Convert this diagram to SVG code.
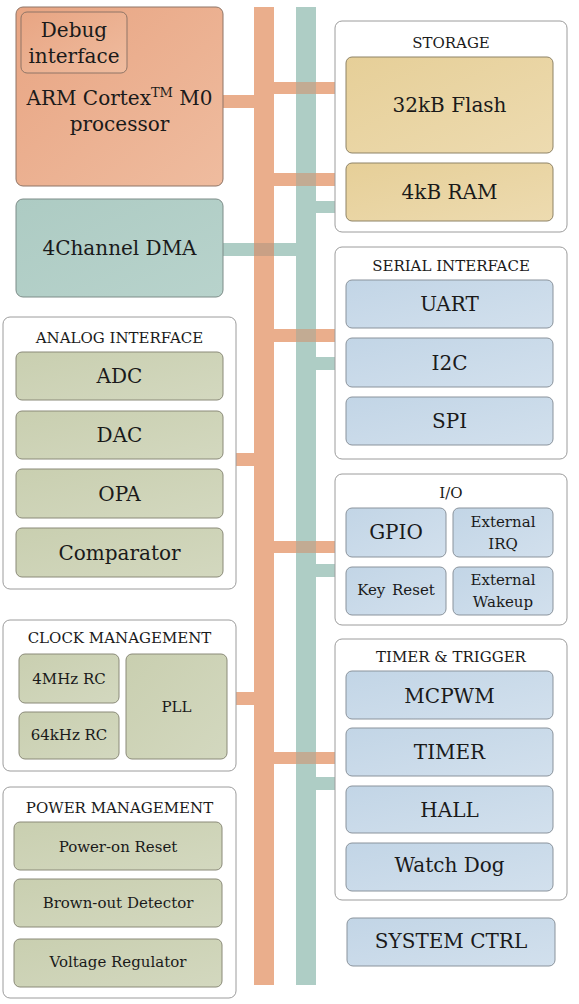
<svg xmlns="http://www.w3.org/2000/svg" width="579" height="1004" viewBox="0 0 579 1004">
<defs>
<linearGradient id="gOr" x1="0" y1="0" x2="1" y2="1"><stop offset="0" stop-color="#e8a583"/><stop offset="1" stop-color="#efbc9f"/></linearGradient>
<linearGradient id="gTe" x1="0" y1="0" x2="1" y2="1"><stop offset="0" stop-color="#adcbc3"/><stop offset="1" stop-color="#b8d3cc"/></linearGradient>
<linearGradient id="gYe" x1="0" y1="0" x2="1" y2="1"><stop offset="0" stop-color="#e6cf98"/><stop offset="1" stop-color="#eddbb0"/></linearGradient>
<linearGradient id="gBl" x1="0" y1="0" x2="1" y2="1"><stop offset="0" stop-color="#c2d5e6"/><stop offset="1" stop-color="#d2e0ed"/></linearGradient>
<linearGradient id="gOl" x1="0" y1="0" x2="1" y2="1"><stop offset="0" stop-color="#c9cfb0"/><stop offset="1" stop-color="#d3d8bf"/></linearGradient>
</defs>
<style>
text{font-family:"DejaVu Serif","Liberation Serif",serif;fill:#1a1a1a;text-anchor:middle}
.grp{fill:#ffffff;stroke:#9c9c9c;stroke-width:1}
.or{fill:url(#gOr);stroke:#8f7566;stroke-width:1}
.te{fill:url(#gTe);stroke:#7d8c88;stroke-width:1}
.ye{fill:url(#gYe);stroke:#8e8366;stroke-width:1}
.bl{fill:url(#gBl);stroke:#8a939c;stroke-width:1}
.ol{fill:url(#gOl);stroke:#8a8a78;stroke-width:1}
.t{font-size:15px}
.b{font-size:20px}
.s{font-size:15px}
.busO{fill:#eaae8c}
.busT{fill:#aecdc5}
.xO{fill:#c2ab93}
.xT{fill:#c9a085}
</style>
<g id="connectors">
<rect class="busO" x="254" y="7" width="20" height="978"/>
<rect class="busT" x="296" y="7" width="20" height="978"/>
<rect class="busO" x="223" y="95" width="31" height="13"/>
<rect class="busT" x="223" y="243" width="73" height="13"/>
<rect class="xT" x="254" y="243" width="20" height="13"/>
<rect class="busO" x="274" y="82" width="72" height="12"/>
<rect class="xO" x="296" y="82" width="20" height="12"/>
<rect class="busO" x="274" y="173" width="72" height="13"/>
<rect class="xO" x="296" y="173" width="20" height="13"/>
<rect class="busT" x="316" y="201" width="30" height="12"/>
<rect class="busO" x="274" y="329" width="61" height="13"/>
<rect class="xO" x="296" y="329" width="20" height="13"/>
<rect class="busT" x="316" y="357" width="19" height="13"/>
<rect class="busO" x="236" y="453" width="18" height="13"/>
<rect class="busO" x="274" y="541" width="61" height="12"/>
<rect class="xO" x="296" y="541" width="20" height="12"/>
<rect class="busT" x="316" y="564" width="19" height="13"/>
<rect class="busO" x="236" y="692" width="18" height="13"/>
<rect class="busO" x="274" y="752" width="61" height="12"/>
<rect class="xO" x="296" y="752" width="20" height="12"/>
<rect class="busT" x="316" y="777" width="19" height="13"/>
</g>
<g id="cpu">
<rect class="or" x="16" y="7" width="207" height="179" rx="7"/>
<text class="b" x="119.5" y="105" font-size="21px">ARM Cortex<tspan dy="-8" font-size="13px">TM</tspan><tspan dy="8"> M0</tspan></text>
<text class="b" x="119.5" y="131" font-size="21px">processor</text>
</g>
<g id="debug">
<rect class="or" x="21" y="12" width="106" height="61" rx="6"/>
<text class="b" x="74" y="37">Debug</text>
<text class="b" x="74" y="63">interface</text>
</g>
<g id="dma">
<rect class="te" x="16" y="199" width="207" height="98" rx="7"/>
<text class="b" x="119.5" y="255">4Channel DMA</text>
</g>
<g id="storage">
<rect class="grp" x="335" y="21" width="232" height="211" rx="7"/>
<text class="t" x="451" y="48">STORAGE</text>
</g>
<g id="flash">
<rect class="ye" x="346" y="57" width="207" height="96" rx="6"/>
<text class="b" x="449.5" y="112">32kB Flash</text>
</g>
<g id="ram">
<rect class="ye" x="346" y="163" width="207" height="58" rx="6"/>
<text class="b" x="449.5" y="199">4kB RAM</text>
</g>
<g id="serial">
<rect class="grp" x="335" y="247" width="232" height="212" rx="7"/>
<text class="t" x="451" y="271">SERIAL INTERFACE</text>
</g>
<g id="uart">
<rect class="bl" x="346" y="280" width="207" height="48" rx="6"/>
<text class="b" x="449.5" y="311">UART</text>
</g>
<g id="i2c">
<rect class="bl" x="346" y="338" width="207" height="49" rx="6"/>
<text class="b" x="449.5" y="370">I2C</text>
</g>
<g id="spi">
<rect class="bl" x="346" y="397" width="207" height="48" rx="6"/>
<text class="b" x="449.5" y="428">SPI</text>
</g>
<g id="analog">
<rect class="grp" x="3" y="317" width="233" height="272" rx="7"/>
<text class="t" x="119.5" y="343">ANALOG INTERFACE</text>
</g>
<g id="adc">
<rect class="ol" x="16" y="352" width="207" height="48" rx="6"/>
<text class="b" x="119.5" y="383">ADC</text>
</g>
<g id="dac">
<rect class="ol" x="16" y="411" width="207" height="48" rx="6"/>
<text class="b" x="119.5" y="442">DAC</text>
</g>
<g id="opa">
<rect class="ol" x="16" y="469" width="207" height="49" rx="6"/>
<text class="b" x="119.5" y="501">OPA</text>
</g>
<g id="comparator">
<rect class="ol" x="16" y="528" width="207" height="49" rx="6"/>
<text class="b" x="119.5" y="560">Comparator</text>
</g>
<g id="io">
<rect class="grp" x="335" y="474" width="232" height="151" rx="7"/>
<text class="t" x="451" y="498">I/O</text>
</g>
<g id="gpio">
<rect class="bl" x="346" y="508" width="100" height="49" rx="6"/>
<text class="b" x="396" y="539" font-size="19px">GPIO</text>
</g>
<g id="extirq">
<rect class="bl" x="453" y="508" width="100" height="49" rx="6"/>
<text class="s" x="503" y="527">External</text>
<text class="s" x="503" y="549">IRQ</text>
</g>
<g id="keyreset">
<rect class="bl" x="346" y="567" width="100" height="48" rx="6"/>
<text class="s" x="396" y="595" word-spacing="2">Key Reset</text>
</g>
<g id="extwakeup">
<rect class="bl" x="453" y="567" width="100" height="48" rx="6"/>
<text class="s" x="503" y="585">External</text>
<text class="s" x="503" y="607">Wakeup</text>
</g>
<g id="clock">
<rect class="grp" x="3" y="620" width="233" height="151" rx="7"/>
<text class="t" x="119.5" y="643">CLOCK MANAGEMENT</text>
</g>
<g id="rc4mhz">
<rect class="ol" x="19" y="654" width="100" height="49" rx="6"/>
<text class="s" x="69" y="684">4MHz RC</text>
</g>
<g id="rc64khz">
<rect class="ol" x="19" y="712" width="100" height="47" rx="6"/>
<text class="s" x="69" y="740">64kHz RC</text>
</g>
<g id="pll">
<rect class="ol" x="126" y="654" width="101" height="105" rx="6"/>
<text class="s" x="176.5" y="712">PLL</text>
</g>
<g id="timer">
<rect class="grp" x="335" y="639" width="232" height="261" rx="7"/>
<text class="t" x="451" y="662" font-size="14px">TIMER &amp; TRIGGER</text>
</g>
<g id="mcpwm">
<rect class="bl" x="346" y="671" width="207" height="48" rx="6"/>
<text class="b" x="449.5" y="703">MCPWM</text>
</g>
<g id="timer1">
<rect class="bl" x="346" y="728" width="207" height="48" rx="6"/>
<text class="b" x="449.5" y="759">TIMER</text>
</g>
<g id="hall">
<rect class="bl" x="346" y="786" width="207" height="47" rx="6"/>
<text class="b" x="449.5" y="817">HALL</text>
</g>
<g id="watchdog">
<rect class="bl" x="346" y="843" width="207" height="48" rx="6"/>
<text class="b" x="449.5" y="872">Watch Dog</text>
</g>
<g id="sysctrl">
<rect class="bl" x="347" y="918" width="208" height="48" rx="6"/>
<text class="b" x="451" y="948">SYSTEM CTRL</text>
</g>
<g id="power">
<rect class="grp" x="3" y="787" width="233" height="211" rx="7"/>
<text class="t" x="119.5" y="813">POWER MANAGEMENT</text>
</g>
<g id="por">
<rect class="ol" x="14" y="822" width="208" height="48" rx="6"/>
<text class="s" x="118" y="852">Power-on Reset</text>
</g>
<g id="bod">
<rect class="ol" x="14" y="879" width="208" height="48" rx="6"/>
<text class="s" x="118" y="908">Brown-out Detector</text>
</g>
<g id="vreg">
<rect class="ol" x="14" y="939" width="208" height="48" rx="6"/>
<text class="s" x="118" y="967">Voltage Regulator</text>
</g>
</svg>
